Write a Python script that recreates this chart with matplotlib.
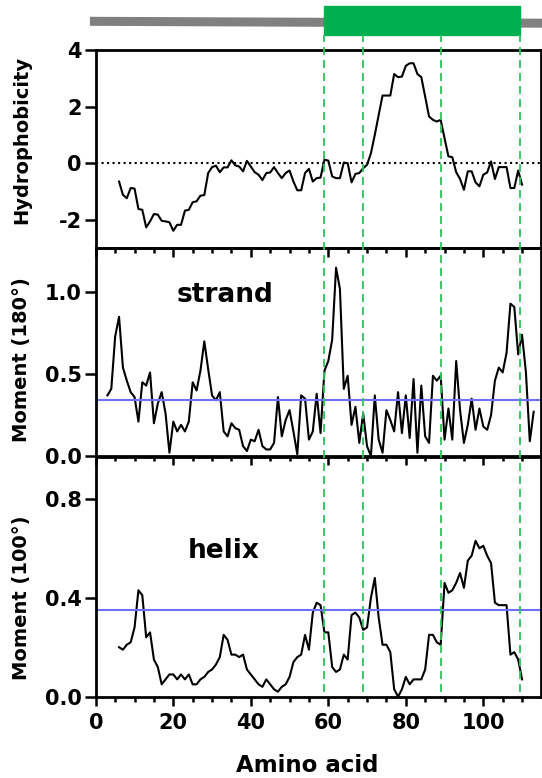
import numpy as np
import matplotlib
matplotlib.use("Agg")
import matplotlib.pyplot as plt
from matplotlib.patches import Rectangle

# ─── Datos por residuo ────────────────────────────────────────
hyd_start = 6
hydrophobicity = [
    -0.65, -1.12, -1.24, -0.88, -0.90, -1.62, -1.65, -2.27, -2.06, -1.80,
    -1.82, -2.04, -2.06, -2.09, -2.39, -2.18, -2.18, -1.68, -1.65, -1.38,
    -1.35, -1.15, -1.13, -0.35, -0.14, -0.09, -0.32, -0.15, -0.15, 0.10,
    -0.08, -0.12, -0.29, 0.08, -0.12, -0.32, -0.41, -0.60, -0.35, -0.33,
    -0.14, -0.35, -0.53, -0.35, -0.26, -0.65, -0.96, -0.96, -0.35, -0.20,
    -0.65, -0.53, -0.51, 0.12, 0.09, -0.47, -0.53, -0.53, 0.02, 0.00,
    -0.68, -0.38, -0.35, -0.18, -0.06, 0.35, 1.00, 1.70, 2.39, 2.39,
    2.39, 3.15, 3.04, 3.06, 3.44, 3.53, 3.53, 3.15, 3.04, 2.35,
    1.65, 1.53, 1.47, 1.53, 0.88, 0.24, 0.21, -0.32, -0.56, -0.94,
    -0.29, -0.29, -0.68, -0.82, -0.41, -0.33, 0.06, -0.56, -0.14, -0.14,
    -0.14, -0.88, -0.88, -0.26, -0.76,
]

strand_start = 3
moment_strand = [
    0.37, 0.41, 0.73, 0.85, 0.54, 0.46, 0.39, 0.36, 0.21, 0.45,
    0.43, 0.51, 0.20, 0.32, 0.39, 0.26, 0.02, 0.21, 0.15, 0.19,
    0.15, 0.21, 0.45, 0.40, 0.52, 0.70, 0.53, 0.37, 0.34, 0.39,
    0.15, 0.12, 0.20, 0.17, 0.16, 0.06, 0.03, 0.10, 0.09, 0.16,
    0.06, 0.04, 0.04, 0.08, 0.36, 0.12, 0.22, 0.28, 0.15, 0.01,
    0.37, 0.35, 0.10, 0.15, 0.38, 0.14, 0.52, 0.58, 0.71, 1.15,
    1.02, 0.41, 0.49, 0.19, 0.30, 0.08, 0.26, 0.06, 0.00, 0.37,
    0.10, 0.02, 0.28, 0.22, 0.15, 0.39, 0.14, 0.37, 0.11, 0.47,
    0.02, 0.43, 0.12, 0.08, 0.49, 0.46, 0.49, 0.10, 0.29, 0.10,
    0.58, 0.28, 0.08, 0.19, 0.35, 0.16, 0.29, 0.18, 0.16, 0.25,
    0.46, 0.54, 0.51, 0.63, 0.93, 0.91, 0.62, 0.74, 0.51, 0.09,
    0.27,
]

helix_start = 6
moment_helix = [
    0.20, 0.19, 0.21, 0.22, 0.28, 0.43, 0.41, 0.24, 0.26, 0.15,
    0.12, 0.05, 0.07, 0.09, 0.09, 0.07, 0.09, 0.07, 0.09, 0.05,
    0.05, 0.07, 0.08, 0.10, 0.11, 0.13, 0.16, 0.25, 0.23, 0.17,
    0.17, 0.16, 0.17, 0.11, 0.09, 0.07, 0.05, 0.04, 0.07, 0.05,
    0.03, 0.02, 0.04, 0.05, 0.08, 0.14, 0.16, 0.17, 0.25, 0.19,
    0.34, 0.38, 0.37, 0.26, 0.26, 0.12, 0.10, 0.11, 0.17, 0.15,
    0.33, 0.34, 0.32, 0.27, 0.28, 0.40, 0.48, 0.32, 0.21, 0.21,
    0.18, 0.03, 0.00, 0.03, 0.08, 0.05, 0.07, 0.07, 0.07, 0.11,
    0.25, 0.25, 0.22, 0.21, 0.46, 0.42, 0.43, 0.46, 0.50, 0.44,
    0.55, 0.57, 0.63, 0.60, 0.61, 0.57, 0.54, 0.38, 0.37, 0.37,
    0.37, 0.17, 0.18, 0.15, 0.07,
]

segment_bounds = [59, 69, 89, 109.5]   # límites del dominio
domain = (59, 109.5)
strand_cut = 0.34
helix_cut = 0.35

x_hyd = np.arange(hyd_start, hyd_start + len(hydrophobicity))
x_str = np.arange(strand_start, strand_start + len(moment_strand))
x_hel = np.arange(helix_start, helix_start + len(moment_helix))

# ─── Figura ───────────────────────────────────────────────────
W, H = 542, 778
fig = plt.figure(figsize=(W / 100, H / 100), dpi=100)
X0, PX = 95.8, 3.875          # px del origen y px por residuo
XMAX = 115

def box(top, bottom, left=X0, right=X0 + XMAX * PX):
    return [left / W, 1 - bottom / H, (right - left) / W, (bottom - top) / H]

tick_font = dict(family="DejaVu Sans", weight="bold", size=15)
GREEN_D = "#2cc35c"
BLUE = "#6f6fff"

def style_axis(ax, yticks, ylabels, ylim, xlabels=False):
    ax.set_facecolor("none")
    ax.set_xlim(0, XMAX)
    ax.set_ylim(*ylim)
    for s in ax.spines.values():
        s.set_linewidth(2)
    ax.set_xticks(np.arange(0, XMAX, 20))
    ax.set_xticks(np.arange(0, XMAX, 5), minor=True)
    ax.set_yticks(yticks)
    ax.set_yticklabels(ylabels, fontdict=tick_font)
    ax.tick_params(axis="y", which="major", direction="out", length=8,
                   width=1.8, pad=2)
    ax.tick_params(axis="x", which="major", direction="out", length=6.5,
                   width=1.8, pad=5, labelbottom=xlabels)
    ax.tick_params(axis="x", which="minor", direction="out", length=3.5,
                   width=1.8)
    if xlabels:
        ax.set_xticklabels([str(v) for v in np.arange(0, XMAX, 20)],
                           fontdict=tick_font)

# Hidrofobicidad
ax1 = fig.add_axes(box(50, 248))
ax1.plot(x_hyd, hydrophobicity, color="black", lw=1.5)
ax1.axhline(0, color="black", ls=":", lw=1.5)
style_axis(ax1, [-2, 0, 2, 4], ["-2", "0", "2", "4"], (-3, 4))

# Momento hidrofóbico 180º
ax2 = fig.add_axes(box(248, 456))
ax2.plot(x_str, moment_strand, color="black", lw=1.5)
ax2.axhline(strand_cut, color=BLUE, lw=1.5)
ax2.text(33.3, 0.94, "strand", fontsize=19, fontweight="bold",
         ha="center", va="baseline")
style_axis(ax2, [0, 0.5, 1.0], ["0.0", "0.5", "1.0"], (0, 1.27))

# Momento hidrofóbico 100º
ax3 = fig.add_axes(box(456.7, 696.7))
ax3.plot(x_hel, moment_helix, color="black", lw=1.5)
ax3.axhline(helix_cut, color=BLUE, lw=1.5)
ax3.text(33.1, 0.56, "helix", fontsize=19, fontweight="bold",
         ha="center", va="baseline")
style_axis(ax3, [0, 0.4, 0.8], ["0.0", "0.4", "0.8"], (0, 0.97),
           xlabels=True)

# Barra superior: secuencia + dominio
axb = fig.add_axes([0, 1 - 50 / H, 1, 50 / H])
axb.set_xlim(-X0 / PX, (W - X0) / PX)
axb.set_ylim(50, 0)
axb.axis("off")
axb.plot([-1.5, (W - X0) / PX], [21.3, 23.2], color="#808080", lw=6.5,
         solid_capstyle="butt")
axb.add_patch(Rectangle((domain[0], 5.7), domain[1] - domain[0], 29.3,
                        color="#00b050", zorder=3))

# Líneas discontinuas de los segmentos
axo = fig.add_axes(box(35, 692))
axo.set_xlim(0, XMAX)
axo.set_ylim(0, 1)
axo.axis("off")
axo.vlines(segment_bounds, 0, 1, colors=GREEN_D, lw=1.3,
           linestyles=(0, (4.4, 2.8)))

# Etiquetas
lab = dict(family="DejaVu Sans", weight="bold", size=14, rotation=90,
           ha="center", va="center")
fig.text(22 / W, 1 - 140 / H, "Hydrophobicity", **lab)
fig.text(22 / W, 1 - 360 / H, "Moment (180°)", **lab)
fig.text(22 / W, 1 - 598 / H, "Moment (100°)", **lab)
fig.text(307 / W, 1 - 766 / H, "Amino acid", family="DejaVu Sans",
         weight="bold", size=16.5, ha="center", va="center")

fig.savefig("out.png", dpi=100)
